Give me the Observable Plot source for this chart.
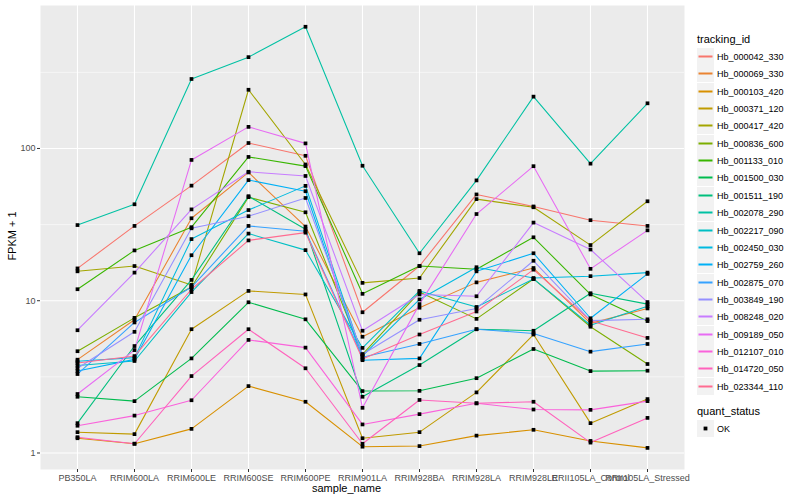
<!DOCTYPE html>
<html>
<head>
<meta charset="utf-8">
<script src="https://cdn.jsdelivr.net/npm/d3@7"></script>
<script src="https://cdn.jsdelivr.net/npm/@observablehq/plot@0.6"></script>
<style>
  html, body { margin: 0; padding: 0; background: #fff; }
  #wrap { position: relative; width: 800px; height: 500px; font-family: "Liberation Sans", Arial, sans-serif; }
  #chart { position: absolute; left: 0; top: 0; }
  .ttl { position: absolute; font-size: 11px; color: #000; white-space: nowrap; }
  .leg-item { position: absolute; left: 697px; height: 17px; display: flex; align-items: center; }
  .key { width: 17px; height: 17px; display: block; }
  .lab { font-size: 9px; color: #000; margin-left: 3px; white-space: nowrap; }
</style>
</head>
<body>
<div id="wrap">
  <div id="chart"></div>
</div>
<script>
// ---- data ----
const samples = ["PB350LA","RRIM600LA","RRIM600LE","RRIM600SE","RRIM600PE","RRIM901LA","RRIM928BA","RRIM928LA","RRIM928LE","RRII105LA_Control","RRII105LA_Stressed"];
const trackingIds = ["Hb_000042_330","Hb_000069_330","Hb_000103_420","Hb_000371_120","Hb_000417_420","Hb_000836_600","Hb_001133_010","Hb_001500_030","Hb_001511_190","Hb_002078_290","Hb_002217_090","Hb_002450_030","Hb_002759_260","Hb_002875_070","Hb_003849_190","Hb_008248_020","Hb_009189_050","Hb_012107_010","Hb_014720_050","Hb_023344_110"];
const trackColors = ["#F8766D","#EA8331","#D89000","#C09B00","#A3A500","#7CAE00","#39B600","#00BB4E","#00BF7D","#00C1A3","#00BFC4","#00BAE0","#00B0F6","#35A2FF","#9590FF","#C77CFF","#E76BF3","#FA62DB","#FF62BC","#FF6C91"];
const yTicks = [1, 10, 100];
const yMinor = [3.1623, 31.623, 316.23];

// FPKM + 1 per sample, one array per tracking_id
const Hb_000042_330 = [16.3, 31, 57, 108.6, 89.5, 8.4, 16.9, 49.9, 41.6, 33.8, 31];
const Hb_000069_330 = [4.1, 7.5, 34.8, 69.6, 30.7, 5.8, 9.0, 13.2, 16.4, 7.1, 8.9];
const Hb_000103_420 = [1.25, 1.15, 1.44, 2.75, 2.17, 1.10, 1.11, 1.30, 1.42, 1.20, 1.08];
const Hb_000371_120 = [1.37, 1.33, 6.5, 11.6, 11.0, 1.25, 1.37, 2.5, 6.0, 1.57, 2.26];
const Hb_000417_420 = [15.6, 16.9, 12.7, 243, 78.5, 13.1, 14.1, 46.5, 41.1, 23.2, 45];
const Hb_000836_600 = [4.66, 7.72, 12.3, 47.9, 38.1, 4.45, 11.4, 7.6, 13.9, 6.75, 3.84];
const Hb_001133_010 = [11.9, 21.4, 30.4, 88, 76.6, 11.1, 16.9, 16.1, 26.1, 11.0, 7.35];
const Hb_001500_030 = [2.34, 2.19, 4.18, 9.77, 7.55, 2.55, 2.56, 3.1, 4.82, 3.45, 3.47];
const Hb_001511_190 = [1.57, 5.04, 13.7, 48.6, 29.5, 2.34, 3.78, 6.5, 6.35, 11.2, 9.5];
const Hb_002078_290 = [31.4, 43, 286, 398, 630, 77, 20.5, 61.7, 219, 79.5, 198];
const Hb_002217_090 = [3.75, 4.02, 11.4, 27.6, 21.5, 4.9, 11.6, 9.1, 13.9, 6.9, 9.2];
const Hb_002450_030 = [4.0, 4.23, 25.4, 39.4, 56.8, 4.35, 10.2, 16.6, 14.1, 14.5, 15.3];
const Hb_002759_260 = [3.45, 4.12, 19.9, 62, 52.4, 4.07, 4.18, 15.6, 20.5, 7.67, 15.0];
const Hb_002875_070 = [3.3, 7.2, 12.3, 31.0, 28.6, 4.25, 5.2, 6.5, 6.1, 4.63, 5.2];
const Hb_003849_190 = [3.6, 6.25, 29.9, 35.9, 47.3, 4.45, 7.5, 8.9, 18.3, 7.4, 7.55];
const Hb_008248_020 = [6.4, 15.3, 39.8, 70.3, 66, 6.35, 11.0, 10.7, 32.6, 21.7, 9.8];
const Hb_009189_050 = [2.44, 4.74, 84.1, 138.6, 108, 1.98, 9.5, 37.1, 76.5, 16.2, 29];
const Hb_012107_010 = [1.51, 1.76, 2.22, 5.53, 4.92, 1.54, 1.8, 2.12, 1.93, 1.92, 2.19];
const Hb_014720_050 = [1.27, 1.15, 3.2, 6.5, 3.6, 1.15, 2.23, 2.12, 2.17, 1.17, 1.7];
const Hb_023344_110 = [3.9, 4.33, 11.9, 24.9, 28.0, 4.14, 6.0, 8.5, 16.0, 7.4, 5.7];

const seriesValues = [Hb_000042_330, Hb_000069_330, Hb_000103_420, Hb_000371_120, Hb_000417_420,
  Hb_000836_600, Hb_001133_010, Hb_001500_030, Hb_001511_190, Hb_002078_290, Hb_002217_090,
  Hb_002450_030, Hb_002759_260, Hb_002875_070, Hb_003849_190, Hb_008248_020, Hb_009189_050,
  Hb_012107_010, Hb_014720_050, Hb_023344_110];

const rows = trackingIds.flatMap((id, i) =>
  seriesValues[i].map((v, j) => ({tracking_id: id, sample_name: samples[j], fpkm1: v, quant_status: "OK"})));

// ---- chart ----
const plot = Plot.plot({
  width: 690,
  height: 500,
  marginTop: 5,
  marginBottom: 31,
  marginLeft: 40,
  marginRight: 6,
  style: {fontFamily: '"Liberation Sans", Arial, sans-serif', fontSize: "9px", background: "transparent", overflow: "visible"},
  x: {type: "point", domain: samples, padding: 0.6},
  y: {type: "log", domain: [0.779, 869]},
  color: {domain: trackingIds, range: trackColors},
  marks: [
    Plot.frame({fill: "#EBEBEB", stroke: null}),
    Plot.ruleY(yMinor, {stroke: "#fff", strokeWidth: 0.55}),
    Plot.ruleY(yTicks, {stroke: "#fff", strokeWidth: 1.1}),
    Plot.ruleX(samples, {stroke: "#fff", strokeWidth: 1.1}),
    Plot.axisX({label: null, tickSize: 3, tickPadding: 2, stroke: "#333", fill: "#4D4D4D", fontSize: 9}),
    Plot.axisY({ticks: yTicks, tickFormat: d => String(d), label: null, tickSize: 3, tickPadding: 2, stroke: "#333", fill: "#4D4D4D", fontSize: 9}),
    Plot.line(rows, {x: "sample_name", y: "fpkm1", z: "tracking_id", stroke: "tracking_id", strokeWidth: 1.07}),
    Plot.dot(rows, {x: "sample_name", y: "fpkm1", symbol: "square", r: 2.1, fill: "#000", stroke: null})
  ]
});
document.getElementById("chart").appendChild(plot);

// ---- titles and legend ----
const wrap = document.getElementById("wrap");
function addText(txt, css) {
  const d = document.createElement("div");
  d.className = "ttl";
  d.textContent = txt;
  Object.assign(d.style, css);
  wrap.appendChild(d);
  return d;
}
addText("sample_name", {left: "312px", top: "482px"});
addText("FPKM + 1", {left: "-13px", top: "230px", transform: "rotate(-90deg)", transformOrigin: "center"});
addText("tracking_id", {left: "697px", top: "33px"});

const svgNS = "http://www.w3.org/2000/svg";
function keySvg() {
  const s = document.createElementNS(svgNS, "svg");
  s.setAttribute("width", 17); s.setAttribute("height", 17);
  s.setAttribute("class", "key");
  const r = document.createElementNS(svgNS, "rect");
  r.setAttribute("width", 17); r.setAttribute("height", 17); r.setAttribute("fill", "#F2F2F2");
  s.appendChild(r);
  return s;
}
trackingIds.forEach((id, i) => {
  const it = document.createElement("div");
  it.className = "leg-item";
  it.style.top = Math.round(48 + i * 17.35) + "px";
  const k = keySvg();
  const ln = document.createElementNS(svgNS, "rect");
  ln.setAttribute("x", 1.5); ln.setAttribute("width", 14);
  ln.setAttribute("y", 7.5); ln.setAttribute("height", 2);
  ln.setAttribute("fill", trackColors[i]);
  k.appendChild(ln);
  const lb = document.createElement("span");
  lb.className = "lab";
  lb.textContent = id;
  it.appendChild(k);
  it.appendChild(lb);
  wrap.appendChild(it);
});
addText("quant_status", {left: "697px", top: "405px"});
const ok = document.createElement("div");
ok.className = "leg-item";
ok.style.top = "420px";
const ks = keySvg();
const sq = document.createElementNS(svgNS, "rect");
sq.setAttribute("x", 6.6); sq.setAttribute("y", 6.6); sq.setAttribute("width", 3.8); sq.setAttribute("height", 3.8); sq.setAttribute("fill", "#000");
ks.appendChild(sq);
ok.appendChild(ks);
const okl = document.createElement("span");
okl.className = "lab"; okl.textContent = "OK";
ok.appendChild(okl);
wrap.appendChild(ok);
</script>
</body>
</html>
